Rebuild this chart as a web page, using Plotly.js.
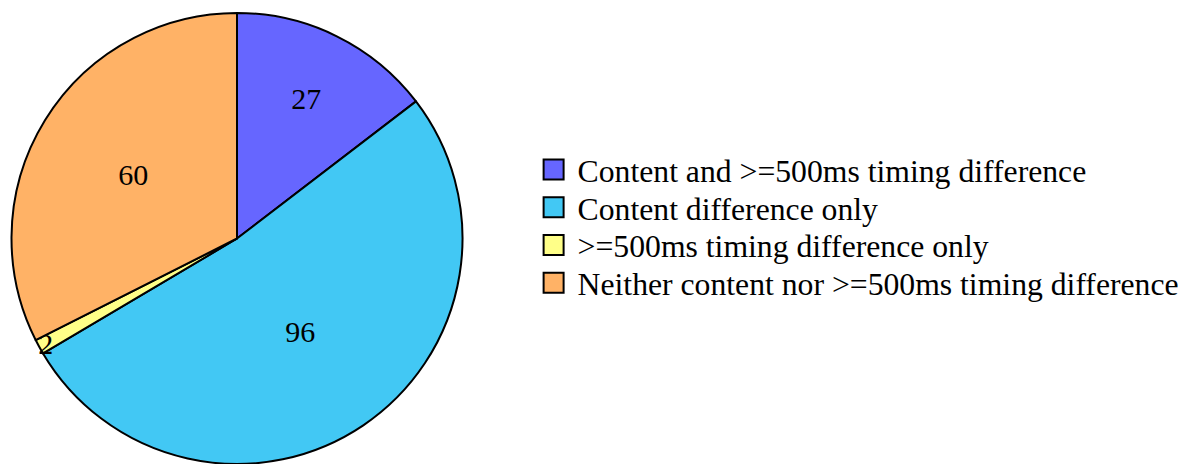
<!DOCTYPE html>
<html><head><meta charset="utf-8">
<script src="https://cdn.plot.ly/plotly-3.0.1.min.js"></script>
<style>html,body{margin:0;padding:0;background:#fff;}</style>
</head><body>
<div id="chart" style="width:1185px;height:464px;"></div>
<script>
const categories = [
  "Content and >=500ms timing difference",
  "Content difference only",
  ">=500ms timing difference only",
  "Neither content nor >=500ms timing difference"
];
const values = [27, 96, 2, 60];
const colors = ["#6666ff", "#42c8f4", "#ffff88", "#ffb266"];

Plotly.newPlot("chart", [{
  type: "pie",
  labels: categories,
  values: values,
  sort: false,
  direction: "clockwise",
  rotation: 0,
  marker: {colors: colors, line: {color: "#000", width: 2}},
  textinfo: "value",
  textposition: "inside",
  insidetextorientation: "horizontal",
  textfont: {family: "Liberation Serif", size: 30, color: "#000"},
  domain: {x: [0, 0.4], y: [0, 1]},
  hoverinfo: "none"
}], {
  width: 1185, height: 464,
  margin: {l: 0, r: 0, t: 13, b: 0, autoexpand: false},
  paper_bgcolor: "#fff",
  showlegend: true,
  uniformtext: {mode: "show", minsize: 30},
  legend: {x: 0.4503, y: 0.53, xanchor: "left", yanchor: "middle",
    font: {family: "Liberation Serif", size: 31.7, color: "#000"},
    traceorder: "normal", itemwidth: 30}
}, {displayModeBar: false, staticPlot: true}).then(function(gd){
  gd.querySelectorAll(".legendpoints path").forEach(function(p){
    p.setAttribute("d", "M10,10H-10V-10H10Z");
    p.style.strokeWidth = "2px";
    p.style.stroke = "#000";
  });
  // tighten legend line spacing to match the reference
  const items = gd.querySelectorAll(".legend .traces");
  const step = 37.7;
  let y0 = null;
  items.forEach(function(g, i){
    const m = /translate\(([-\d.]+),\s*([-\d.]+)\)/.exec(g.getAttribute("transform") || "");
    if (!m) return;
    if (y0 === null) y0 = parseFloat(m[2]);
    g.setAttribute("transform", "translate(" + m[1] + "," + (y0 + 11 + i * step) + ")");
  });
  gd.querySelectorAll(".legend .traces text").forEach(function(t){
    const x = parseFloat(t.getAttribute("x") || "0");
    t.setAttribute("x", x + 4);
  });
});
</script>
</body></html>
